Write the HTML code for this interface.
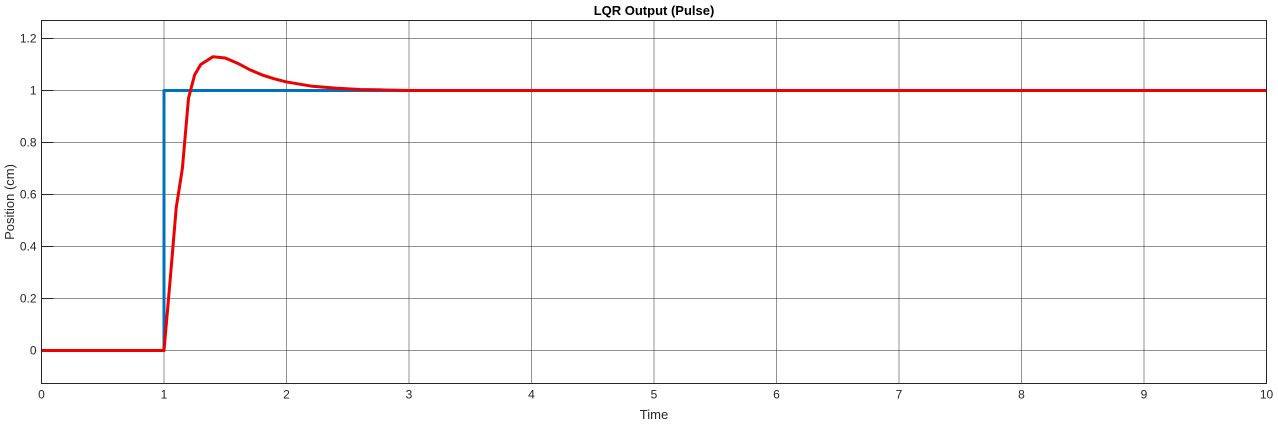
<!DOCTYPE html>
<html><head><meta charset="utf-8"><style>
body{margin:0;background:#fff;width:1278px;height:429px;overflow:hidden}
text{font-family:"Liberation Sans",sans-serif}
</style></head><body>
<svg id="chart" width="1278" height="429" xmlns="http://www.w3.org/2000/svg"></svg>
<script>
const xTicks=[0,1,2,3,4,5,6,7,8,9,10];
const yTicks=[0,0.2,0.4,0.6,0.8,1,1.2];
const yTickLabels=["0","0.2","0.4","0.6","0.8","1","1.2"];
const refT=[0,1,1,10];
const refV=[0,0,1,1];
const outT=[0,1,1.05,1.1,1.15,1.2,1.25,1.3,1.4,1.5,1.6,1.7,1.8,1.9,2,2.2,2.4,2.6,2.8,3,10];
const outV=[0,0,0.27,0.55,0.7,0.97,1.06,1.1,1.13,1.125,1.105,1.08,1.06,1.045,1.033,1.017,1.009,1.004,1.002,1.0,1.0];
const L=41.5,R=1266.5,T=20.5,B=383.5;
const xs=v=>L+(v-0)/(10-0)*(R-L);
const ys=v=>350.5-v*260;
const svg=document.getElementById('chart');
const NS='http://www.w3.org/2000/svg';
function mk(tag,attrs,parent){const e=document.createElementNS(NS,tag);for(const k in attrs)e.setAttribute(k,attrs[k]);(parent||svg).appendChild(e);return e;}
const grid=mk('g',{});


xTicks.forEach(t=>{
  const x=xs(t);
  const l=mk('line',{x1:x,x2:x,y1:T,y2:B,stroke:'#262626','stroke-opacity':0.5,'stroke-width':1},grid);
  
  
  const tx=mk('text',{x:x,y:B+15,'font-size':12,'text-anchor':'middle',fill:'#262626'});
  tx.textContent=t;
  
  
});
yTicks.forEach((t,i)=>{
  const y=ys(t);
  const l=mk('line',{x1:L,x2:R,y1:y,y2:y,stroke:'#262626','stroke-opacity':0.5,'stroke-width':1},grid);
  
  
  const tk=mk('line',{x1:L,x2:L+12,y1:y,y2:y,stroke:'#262626'},grid);
  
  
  const tx=mk('text',{x:L-5,y:y+4,'font-size':12,'text-anchor':'end',fill:'#262626'});
  tx.textContent=yTickLabels[i];
  
  
});
function line(ts,vs,color,name){
  const p=mk('polyline',{points:ts.map((t,i)=>xs(t)+','+ys(vs[i])).join(' '),fill:'none',stroke:color,'stroke-width':3,'stroke-linejoin':'round'});
  
  
}
line(refT,refV,'#0072BD','reference-pulse-line');
line(outT,outV,'#EE0000','lqr-output-line');
const box=mk('rect',{x:L,y:T,width:R-L,height:B-T,fill:'none',stroke:'#262626','stroke-width':1});


const title=mk('text',{x:(L+R)/2,y:15,'font-size':13,'font-weight':'bold','text-anchor':'middle',fill:'#000'});
title.textContent='LQR Output (Pulse)';


const xl=mk('text',{x:(L+R)/2,y:419,'font-size':13,'text-anchor':'middle',fill:'#262626'});
xl.textContent='Time';


const yl=mk('text',{x:0,y:0,'font-size':13,'text-anchor':'middle',fill:'#262626',transform:'translate(14,'+((T+B)/2)+') rotate(-90)'});
yl.textContent='Position (cm)';


</script>
</body></html>
